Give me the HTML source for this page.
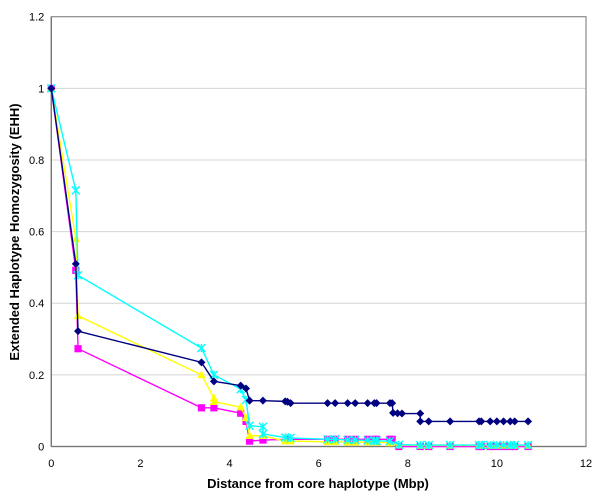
<!DOCTYPE html>
<html><head><meta charset="utf-8"><style>
html,body{margin:0;padding:0;background:#fff;width:600px;height:502px;overflow:hidden}
text{font-family:"Liberation Sans",Arial,sans-serif}
</style></head><body>
<svg id="chart" width="600" height="502" xmlns="http://www.w3.org/2000/svg">
<g id="grid"></g><g id="axes"></g><g id="series"></g>
<text x="318" y="488" font-size="13" font-weight="bold" text-anchor="middle">Distance from core haplotype (Mbp)</text>
<text transform="translate(19,232) rotate(-90)" font-size="13" font-weight="bold" text-anchor="middle">Extended Haplotype Homozygosity (EHH)</text>
</svg>
<script>
const xTicks=[0,2,4,6,8,10,12];
const yTicks=[0,0.2,0.4,0.6,0.8,1,1.2];
const yTickLabels=["0","0.2","0.4","0.6","0.8","1","1.2"];
const navyX=[0,0.55,0.6,3.37,3.65,4.25,4.37,4.45,4.75,5.25,5.3,5.37,6.2,6.37,6.65,6.82,7.1,7.25,7.3,7.6,7.65,7.67,7.77,7.87,8.28,8.28,8.47,8.95,9.6,9.65,9.85,10,10.15,10.3,10.4,10.7];
const navyY=[1,0.51,0.322,0.235,0.182,0.17,0.162,0.128,0.128,0.126,0.125,0.121,0.121,0.121,0.121,0.121,0.121,0.121,0.121,0.121,0.121,0.094,0.093,0.092,0.092,0.07,0.07,0.07,0.07,0.07,0.07,0.07,0.07,0.07,0.07,0.07];
const cyanX=[0,0.55,0.6,3.37,3.65,4.25,4.37,4.45,4.75,4.75,5.25,5.37,6.2,6.37,6.65,6.82,7.1,7.25,7.3,7.6,7.8,8.28,8.47,8.95,9.6,9.65,9.85,10,10.15,10.3,10.4,10.7];
const cyanY=[1,0.715,0.478,0.275,0.2,0.16,0.13,0.058,0.055,0.035,0.025,0.024,0.02,0.02,0.018,0.018,0.017,0.016,0.016,0.015,0.005,0.004,0.004,0.004,0.004,0.004,0.004,0.004,0.004,0.004,0.004,0.004];
const yellowX=[0,0.55,0.6,3.37,3.65,3.65,4.25,4.37,4.45,4.75,5.25,5.37,6.2,6.37,6.65,6.82,7.1,7.25,7.3,7.6,7.8,8.28,8.47,8.95,9.6,9.65,9.85,10,10.15,10.3,10.4,10.7];
const yellowY=[1,0.58,0.365,0.2,0.135,0.125,0.11,0.08,0.03,0.03,0.015,0.015,0.013,0.013,0.012,0.012,0.012,0.012,0.012,0.01,0.004,0.003,0.003,0.003,0.003,0.003,0.003,0.003,0.003,0.003,0.003,0.003];
const magentaX=[0,0.55,0.6,3.37,3.65,4.25,4.37,4.45,4.75,5.3,6.2,6.37,6.65,6.82,7.1,7.25,7.3,7.6,7.65,7.8,8.28,8.47,8.95,9.6,9.65,9.85,10,10.15,10.3,10.4,10.7];
const magentaY=[1,0.492,0.273,0.108,0.108,0.093,0.07,0.015,0.018,0.02,0.02,0.02,0.02,0.02,0.02,0.02,0.02,0.02,0.02,0.0,0.0,0.0,0.0,0.0,0.0,0.0,0.0,0.0,0.0,0.0,0.0];
const NS="http://www.w3.org/2000/svg";
const L=51.3,R=586,T=16.7,B=446.5;
const sx=v=>L+v/12*(R-L);
const sy=v=>B-v/1.2*(B-T);
function mk(tag,attrs,parent){const e=document.createElementNS(NS,tag);for(const k in attrs)e.setAttribute(k,attrs[k]);parent.appendChild(e);return e;}
const grid=document.getElementById('grid'),axes=document.getElementById('axes'),ser=document.getElementById('series');
yTicks.forEach((v,i)=>{
 if(v>0&&v<1.2){const g=mk('line',{x1:L,x2:R,y1:sy(v),y2:sy(v),stroke:'#d4d4d4','stroke-width':1},grid);
 
 }
 const t=mk('text',{x:L-7,y:sy(v)+4,'font-size':11,'text-anchor':'end'},axes);t.textContent=yTickLabels[i];
 
 
});
xTicks.forEach(v=>{
 const t=mk('text',{x:sx(v),y:467,'font-size':11,'text-anchor':'middle'},axes);t.textContent=v;
 
 
});
mk('rect',{x:L,y:T,width:R-L,height:B-T,fill:'none',stroke:'#8a8a8a','stroke-width':1.2},axes);
const ya=mk('line',{x1:L,x2:L,y1:T,y2:B,stroke:'#777','stroke-width':1.3},axes);


const xa=mk('line',{x1:L,x2:R,y1:B,y2:B,stroke:'#777','stroke-width':1.3},axes);


function series(xs,ys,color,shape,name){
 const g=mk('g',{},ser);
 
 
 mk('polyline',{points:xs.map((x,i)=>sx(x)+','+sy(ys[i])).join(' '),fill:'none',stroke:color,'stroke-width':1.4},g);
 xs.forEach((x,i)=>{const cx=sx(x),cy=sy(ys[i]);let m;
  if(shape==='diamond')m=mk('polygon',{points:`${cx},${cy-4} ${cx+4},${cy} ${cx},${cy+4} ${cx-4},${cy}`,fill:color},g);
  else if(shape==='square')m=mk('rect',{x:cx-3.6,y:cy-3.6,width:7.2,height:7.2,fill:color},g);
  else if(shape==='triangle')m=mk('polygon',{points:`${cx},${cy-4.5} ${cx+4.2},${cy+3.3} ${cx-4.2},${cy+3.3}`,fill:color},g);
  else m=mk('path',{d:`M${cx-4},${cy-4}L${cx+4},${cy+4}M${cx+4},${cy-4}L${cx-4},${cy+4}M${cx},${cy-4}L${cx},${cy+4}`,stroke:color,'stroke-width':1.4,fill:'none'},g);
  
  
 });
}
series(magentaX,magentaY,'#ff00ff','square','series-magenta');
series(yellowX,yellowY,'#ffff00','triangle','series-yellow');
series(cyanX,cyanY,'#00ffff','star','series-cyan');
series(navyX,navyY,'#000080','diamond','series-navy');
</script>
</body></html>
